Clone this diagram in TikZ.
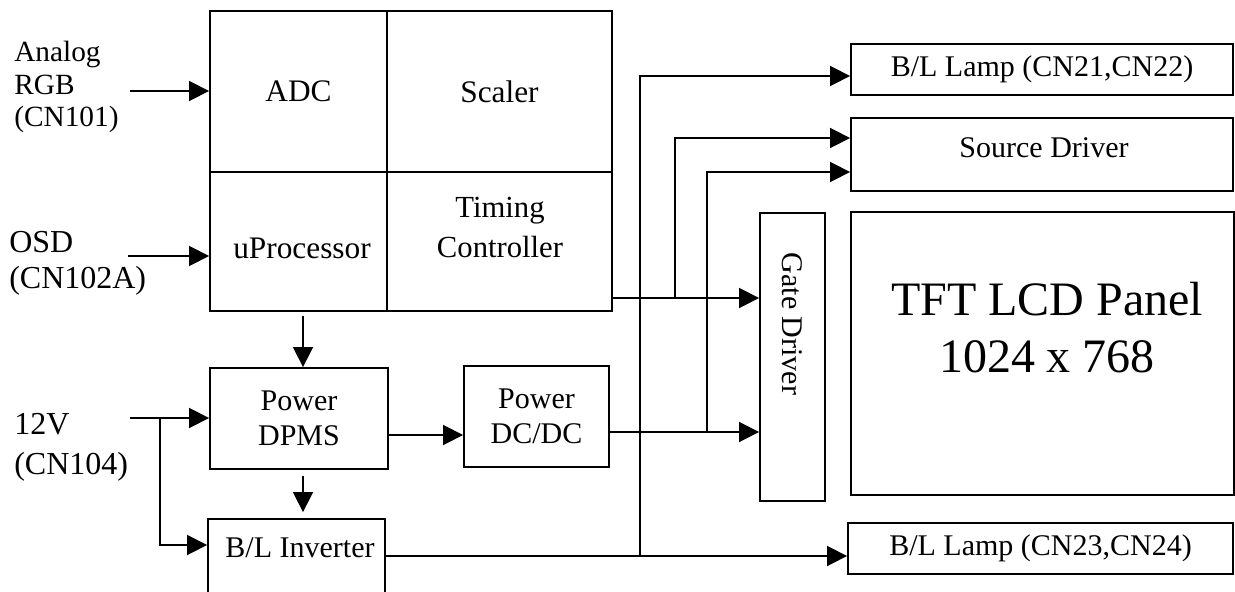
\documentclass[tikz,border=0pt]{standalone}
\usepackage{fontspec}
\setmainfont{Liberation Serif}
\usetikzlibrary{arrows.meta,calc}
\newcommand\fmain{\fontsize{22.5}{27}\selectfont}
\newcommand\fcell{\fontsize{23.5}{27}\selectfont}
\newcommand\ftwo{\fontsize{22.5}{26}\selectfont}
\newcommand\ftc{\fontsize{23}{30}\selectfont}
\newcommand\fbig{\fontsize{36}{42.75}\selectfont}
\begin{document}
\begin{tikzpicture}[x=0.75pt,y=-0.75pt,
  box/.style={draw, line width=1.4pt, inner sep=0pt, align=center, font=\fmain},
  wh/.style 2 args={minimum width=#1*0.75pt, minimum height=#2*0.75pt},
  txt/.style={inner sep=0pt, align=center, font=\fmain},
  wire/.style={line width=1.3pt},
  arr/.style={wire, -{Triangle[length=15pt,width=15pt]}}]
\useasboundingbox (0,0) rectangle (1235,592);
\clip (0,0) rectangle (1235,592);

% main processing block
\node[box, wh={177}{161}, font=\fcell] (adc) at (298.5,91.5) {ADC};
\node[box, wh={225}{161}, font=\fcell] (scaler) at (499.5,91.5) {Scaler};
\node[box, wh={177}{139}] (uproc) at (298.5,241.5) {};
\node[txt, anchor=base, font=\fcell] (uproct) at (302,258) {uProcessor};
\node[box, wh={225}{139}] (tcon) at (499.5,241.5) {};
\node[txt, font=\ftc] (tcont) at (500,227.5) {Timing\\Controller};

% power blocks
\node[box, wh={178}{101}, font=\ftwo] (dpms) at (299,418.5) {Power\\DPMS};
\node[box, wh={145}{101}, font=\ftwo] (dcdc) at (536.5,416.5) {Power\\DC/DC};
\node[box, wh={177}{91}] (inv) at (296.5,564.5) {};
\node[txt, anchor=base] (invt) at (300,557) {B/L Inverter};

% panel side
\node[box, wh={65}{288}] (gate) at (792.5,357) {};
\node[txt, rotate=-90] (gatet) at (792,324) {Gate Driver};
\node[box, wh={383}{283}] (tft) at (1042.5,353.5) {};
\node[txt, font=\fbig] (tftt) at (1047,328) {TFT LCD Panel\\1024 x 768};
\node[box, wh={382}{51}] (bl1) at (1042,69.5) {B/L Lamp (CN21,CN22)};
\node[box, wh={382}{73}] (src) at (1042,154.5) {};
\node[txt, anchor=base] (srct) at (1044,157) {Source Driver};
\node[box, wh={385}{51}] (bl2) at (1040.5,548.5) {B/L Lamp (CN23,CN24)};

% input labels
\node[txt, align=left, anchor=north west, font=\fontsize{22}{24.4}\selectfont] (rgb) at (14,41) {Analog\\RGB\\(CN101)};
\node[txt, align=left, anchor=north west, font=\fontsize{24}{27}\selectfont] (osd) at (9,231) {OSD\\(CN102A)};
\node[txt, align=left, anchor=north west, font=\fontsize{24}{30}\selectfont] (v12) at (14,413.5) {12V\\(CN104)};

% connector points
\coordinate (rgbin) at (130,91);
\coordinate (osdin) at (128,256);
\coordinate (v12in) at (130,418);
\coordinate (v12br) at (160,418);
\coordinate (j1) at (675,298);
\coordinate (j2) at (707,432);
\coordinate (j3) at (640,556);

% connectors
\draw[arr] (rgbin) -- (rgbin -| adc.west);
\draw[arr] (osdin) -- (osdin -| uproc.west);
\draw[arr, shorten <=3pt] (uproc.south -| 303,0) -- (dpms.north -| 303,0);
\draw[arr, shorten <=4.5pt, shorten >=4.5pt] (dpms.south -| 303,0) -- (inv.north -| 303,0);
\draw[arr] (v12in) -- (v12in -| dpms.west);
\draw[arr] (v12br) |- (inv.west |- 0,545);
\draw[arr] (dpms.east |- 0,435) -- (dcdc.west |- 0,435);
\draw[arr] (dcdc.east |- 0,432) -- (gate.west |- 0,432);
\draw[arr] (j2) |- (src.west |- 0,172);
\draw[arr] (tcon.east |- 0,298) -- (gate.west |- 0,298);
\draw[arr] (j1) |- (src.west |- 0,138);
\draw[arr] (inv.east |- 0,556) -- (bl2.west |- 0,556);
\draw[arr] (j3) |- (bl1.west |- 0,76);
\end{tikzpicture}
\end{document}
